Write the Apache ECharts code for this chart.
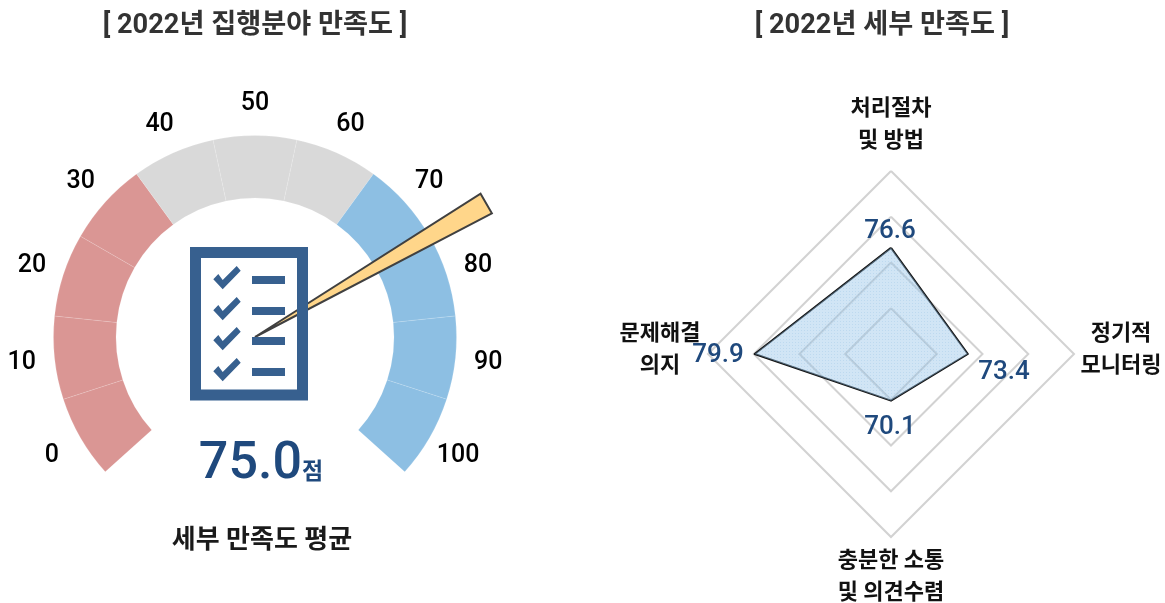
<!DOCTYPE html>
<html><head><meta charset="utf-8">
<style>html,body{margin:0;padding:0;background:#fff}#c{width:1165px;height:603px}</style>
<script src="https://cdn.jsdelivr.net/npm/echarts@6/dist/echarts.min.js"></script>
</head><body><div id="c"></div>
<script>
var FONT = "Roboto, 'Noto Sans CJK KR', sans-serif";
var titles = ['[ 2022년 집행분야 만족도 ]', '[ 2022년 세부 만족도 ]'];
var gaugeValue = 75.0;
var gaugeUnit = '점';
var gaugeCaption = '세부 만족도 평균';
var tickLabels = ['0','10','20','30','40','50','60','70','80','90','100'];
var bandColors = ['#DA9694','#DA9694','#DA9694','#DA9694','#D9D9D9','#D9D9D9','#D9D9D9','#8DBFE3','#8DBFE3','#8DBFE3','#8DBFE3'];
var radarNames = ['처리절차\n및 방법', '문제해결\n의지', '충분한 소통\n및 의견수렴', '정기적\n모니터링'];
var radarValues = [76.6, 79.9, 70.1, 73.4];
var radarMin = 65, radarMax = 85;

var chart = echarts.init(document.getElementById('c'), null, {renderer:'canvas'});

var pat = document.createElement('canvas'); pat.width = 3; pat.height = 3;
var g = pat.getContext('2d');
g.fillStyle = 'rgba(150,195,232,0.44)'; g.fillRect(0,0,3,3);
g.fillStyle = 'rgba(120,175,220,0.22)'; g.fillRect(0,0,1,1);

var gcx = 255, gcy = 337;
var blue = '#37608F';
var bars = [276,307,337,368];
var iconEls = [{type:'rect', z:100, shape:{x:195.5,y:252.5,width:107,height:142.5}, style:{fill:'none',stroke:blue,lineWidth:11}}];
bars.forEach(function(y){
  iconEls.push({type:'rect', z:100, shape:{x:252,y:y,width:33,height:8}, style:{fill:blue}});
  var o = y-276;
  iconEls.push({type:'polygon', z:100, shape:{points:[[213.3,279.3+o],[218.3,274+o],[222.7,280+o],[236.7,266+o],[240.7,270.7+o],[222.7,289.3+o]]}, style:{fill:blue}});
});
var valuePos = [[890,231],[718,355],[890,427],[1004,372]];
var valueEls = radarValues.map(function(v,i){
  return {type:'text', z:100, x:valuePos[i][0], y:valuePos[i][1], style:{text:v.toFixed(1), fill:'#1F497D', font:'500 26px '+FONT, align:'center', verticalAlign:'middle'}};
});

var nameRich = {
  c:{fontSize:22,fontWeight:700,fontFamily:FONT,color:'#111',lineHeight:32,align:'center',width:80},
  r:{fontSize:22,fontWeight:700,fontFamily:FONT,color:'#111',lineHeight:32,align:'center',width:78},
  s6:{fontSize:1,lineHeight:6},
  s8:{fontSize:1,lineHeight:8}
};
var nameStyleKey = ['c','c','c','r'];
var nameSpacer = ['{s6| }','{s8| }','','{s8| }'];

chart.setOption({
  animation:false,
  backgroundColor:'#fff',
  title:[
    {text:titles[0], left:250, top:8, textAlign:'center', textStyle:{fontFamily:FONT,fontSize:27.2,fontWeight:700,color:'#333'}},
    {text:titles[1], left:877, top:8, textAlign:'center', textStyle:{fontFamily:FONT,fontSize:27.2,fontWeight:700,color:'#333'}}
  ],
  radar:{
    center:[891,354], radius:183, startAngle:90, splitNumber:4, shape:'polygon',
    indicator:radarNames.map(function(n){return {name:n,min:radarMin,max:radarMax};}),
    axisLine:{show:false}, axisTick:{show:false},
    splitArea:{show:false},
    splitLine:{lineStyle:{color:'#D2D2D2',width:2}},
    nameGap:8,
    axisName:{
      formatter:function(name){
        var i = radarNames.indexOf(name), k = nameStyleKey[i];
        var s = name.split('\n').map(function(t){return '{'+k+'|'+t+'}';}).join('\n');
        return nameSpacer[i] ? s+'\n'+nameSpacer[i] : s;
      },
      rich:nameRich
    }
  },
  graphic:iconEls.concat(valueEls),
  series:[
    {type:'pie', silent:true, center:[gcx,gcy], radius:[139,201.5], startAngle:222, clockwise:true, z:1,
     label:{show:false}, labelLine:{show:false}, emphasis:{disabled:true},
     itemStyle:{borderColor:'rgba(255,255,255,0.25)', borderWidth:0.5},
     data:bandColors.map(function(c){return {value:1,itemStyle:{color:c}};}).concat([{value:4,itemStyle:{color:'transparent',borderWidth:0}}])
    },
    {type:'pie', silent:true, center:[gcx,gcy+1.5], radius:[211,252], startAngle:222, clockwise:true, z:2,
     labelLine:{show:false}, emphasis:{disabled:true}, itemStyle:{color:'transparent'},
     label:{show:true, position:'inside', rotate:0, formatter:'{b}', color:'#000', fontSize:25, fontWeight:500, fontFamily:FONT},
     data:tickLabels.map(function(t){return {name:t,value:1};}).concat([{name:'',value:4,label:{show:false}}])
    },
    {type:'gauge', silent:true, center:[gcx,gcy], radius:235, startAngle:210, endAngle:-30, min:0, max:100, splitNumber:10, z:5,
     axisLine:{show:false}, axisTick:{show:false}, splitLine:{show:false,length:0}, axisLabel:{show:false},
     progress:{show:false}, anchor:{show:false},
     pointer:{show:true, icon:'path://M0 0L10 0L5 100Z', length:267, width:22.6, offsetCenter:[0,0],
       itemStyle:{color:'#FFD68A',borderColor:'#404040',borderWidth:2}},
     title:{show:true, offsetCenter:[7,204], color:'#1a1a1a', fontSize:26, fontWeight:700, fontFamily:FONT},
     detail:{show:true, offsetCenter:[6,128], formatter:function(v){return '{a|'+v.toFixed(1)+'}{b|'+gaugeUnit+'}';},
       rich:{a:{fontSize:52,fontWeight:500,color:'#1F497D',fontFamily:FONT},b:{fontSize:23,fontWeight:700,color:'#1F497D',fontFamily:FONT,padding:[16,0,0,0]}}},
     data:[{value:gaugeValue,name:gaugeCaption}]
    },
    {type:'radar', silent:true, symbol:'none', z:3,
     lineStyle:{color:'#111',width:2},
     areaStyle:{color:{image:pat,repeat:'repeat'},opacity:1},
     data:[{value:radarValues}]
    }
  ]
});
</script></body></html>
